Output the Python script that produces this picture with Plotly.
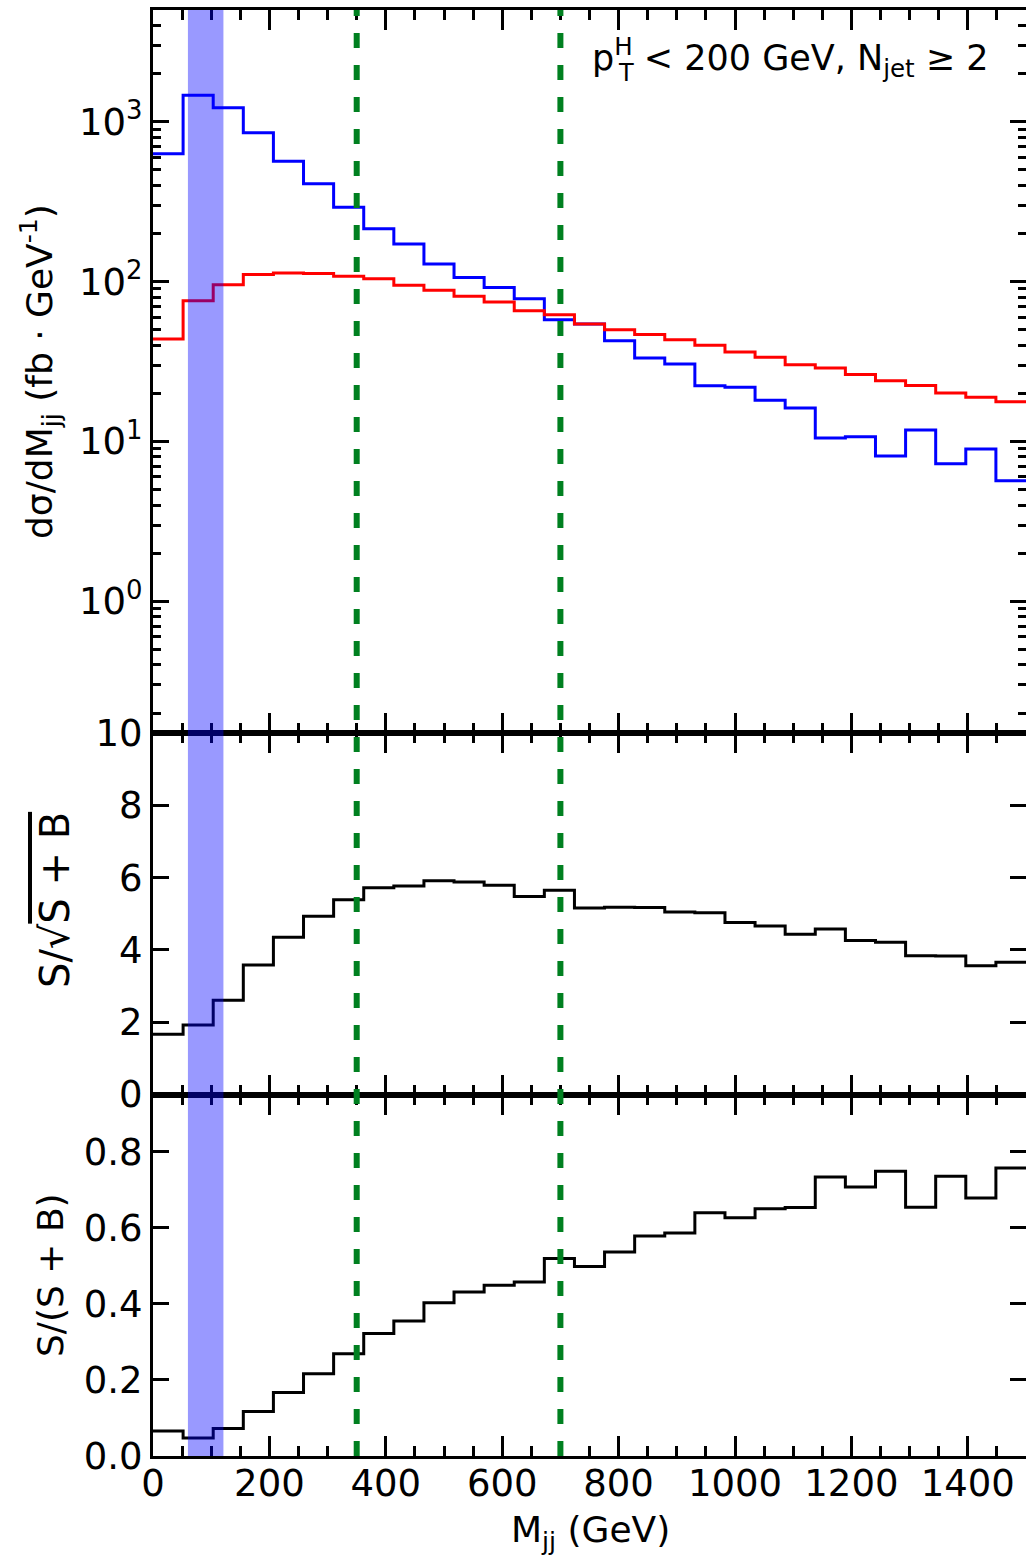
import numpy as np
import plotly.graph_objects as go
from plotly.subplots import make_subplots

# ---- data (29 uniform bins on 0..1500 GeV) ----
bin_edges = np.linspace(0, 1500, 30)

sig_blue = [631, 1462, 1224, 853, 566, 409, 292, 214, 172, 129, 106, 92, 78, 57.8,
            54.3, 42.7, 33.3, 30.5, 22.3, 21.8, 18.1, 16.2, 10.5, 10.7, 8.1, 11.8,
            7.25, 8.96, 5.67]
bkg_red = [43.8, 76, 95.7, 110.6, 113.3, 112.2, 107.9, 104, 94.9, 88.3, 81, 74.6,
           65.8, 62.1, 54.3, 50, 46.6, 43.3, 39.9, 36.3, 33.6, 30.2, 28.8, 26.2,
           24, 22.4, 20.1, 18.9, 17.7]
signif = [1.67, 1.92, 2.61, 3.58, 4.35, 4.93, 5.39, 5.72, 5.77, 5.91, 5.88, 5.79,
          5.48, 5.65, 5.16, 5.18, 5.17, 5.05, 5.03, 4.76, 4.66, 4.43, 4.58, 4.26,
          4.21, 3.84, 3.83, 3.56, 3.66]
purity = [0.066, 0.047, 0.072, 0.117, 0.167, 0.216, 0.269, 0.322, 0.355, 0.403,
          0.431, 0.449, 0.457, 0.519, 0.498, 0.536, 0.578, 0.586, 0.639, 0.626,
          0.650, 0.653, 0.733, 0.707, 0.748, 0.654, 0.735, 0.678, 0.757]

band_range = [60, 121]
cut_lines = [350, 700]

W, H = 1026, 1556
ML, MR, MT, MB = 153, 0, 10, 100
PW = W - ML - MR
PH = H - MT - MB


def px2paper_x(px):
    return (px - ML) / PW


def py2paper_y(py):
    return (H - MB - py) / PH


def step_xy(vals):
    return list(bin_edges), list(vals) + [vals[-1]]


fig = make_subplots(rows=3, cols=1, shared_xaxes=True, vertical_spacing=0,
                    row_heights=[0.5, 0.25, 0.25])

x, y = step_xy(sig_blue)
fig.add_trace(go.Scatter(x=x, y=y, mode="lines", line=dict(color="#0000ff", width=3, shape="hv")), row=1, col=1)
x, y = step_xy(bkg_red)
fig.add_trace(go.Scatter(x=x, y=y, mode="lines", line=dict(color="#ff0000", width=3, shape="hv")), row=1, col=1)
x, y = step_xy(signif)
fig.add_trace(go.Scatter(x=x, y=y, mode="lines", line=dict(color="black", width=3, shape="hv")), row=2, col=1)
x, y = step_xy(purity)
fig.add_trace(go.Scatter(x=x, y=y, mode="lines", line=dict(color="black", width=3, shape="hv")), row=3, col=1)

FONT = "DejaVu Sans"
tickfont = dict(family=FONT, size=37, color="black")

axis_common = dict(showline=True, linecolor="black", linewidth=3, mirror="ticks",
                   ticks="inside", tickcolor="black", tickwidth=2.5, showgrid=False,
                   zeroline=False, tickfont=tickfont, automargin=False)

for i in (1, 2, 3):
    fig.update_xaxes(range=[0, 1500], tick0=0, dtick=200, ticklen=20,
                     minor=dict(dtick=50, tick0=0, ticklen=10, tickwidth=2.5,
                                ticks="inside", tickcolor="black", showgrid=False),
                     row=i, col=1, **axis_common)
fig.update_xaxes(showticklabels=False, row=1, col=1)
fig.update_xaxes(showticklabels=False, row=2, col=1)
fig.update_xaxes(ticklabelstandoff=-7, row=3, col=1)

minor_log = [k * 10.0 ** d for d in range(-1, 4) for k in range(2, 10)]
fig.update_yaxes(type="log", range=[np.log10(0.15), np.log10(5000)],
                 tickmode="array", tickvals=[1, 10, 100, 1000],
                 ticktext=["10<sup>0</sup>", "10<sup>1</sup>", "10<sup>2</sup>", "10<sup>3</sup>"],
                 ticklen=16,
                 minor=dict(tickmode="array", tickvals=minor_log, ticklen=8, tickwidth=2.5,
                            ticks="inside", tickcolor="black", showgrid=False),
                 row=1, col=1, **axis_common)
fig.update_yaxes(range=[0, 10], tickmode="array", tickvals=[0, 2, 4, 6, 8, 10],
                 ticklen=16, row=2, col=1, **axis_common)
fig.update_yaxes(range=[0, 0.95], tickmode="array", tickvals=[0, 0.2, 0.4, 0.6, 0.8],
                 ticktext=["0.0", "0.2", "0.4", "0.6", "0.8"],
                 ticklen=16, row=3, col=1, **axis_common)

shapes = []
shapes.append(dict(type="rect", xref="x", yref="paper", x0=band_range[0], x1=band_range[1],
                   y0=0, y1=1, fillcolor="rgba(0,0,255,0.4)", line=dict(width=0), layer="above"))
for xc in cut_lines:
    shapes.append(dict(type="line", xref="x", yref="paper", x0=xc, x1=xc, y0=0, y1=1,
                       line=dict(color="#008020", width=6, dash="15px,17px"), layer="above"))

annotations = [
    dict(text="p<sup>H</sup>\u00a0< 200 GeV, N<sub>jet</sub> ≥ 2", xref="paper", yref="paper",
         x=px2paper_x(590), y=py2paper_y(58), xanchor="left", yanchor="middle",
         showarrow=False, font=dict(family=FONT, size=35, color="black")),
    dict(text="T", xref="paper", yref="paper",
         x=px2paper_x(626), y=py2paper_y(73), xanchor="center", yanchor="middle",
         showarrow=False, font=dict(family=FONT, size=24, color="black")),
    dict(text="dσ/dM<sub>jj</sub> (fb · GeV<sup>-1</sup>)", xref="paper", yref="paper",
         x=px2paper_x(40), y=py2paper_y(372), xanchor="center", yanchor="middle",
         textangle=-90, showarrow=False, font=dict(family=FONT, size=36, color="black")),
    dict(text="S/√<span style=\"text-decoration:overline\">S + B</span>", xref="paper", yref="paper",
         x=px2paper_x(55), y=py2paper_y(900), xanchor="center", yanchor="middle",
         textangle=-90, showarrow=False, font=dict(family=FONT, size=40, color="black")),
    dict(text="S/(S + B)", xref="paper", yref="paper",
         x=px2paper_x(50), y=py2paper_y(1275), xanchor="center", yanchor="middle",
         textangle=-90, showarrow=False, font=dict(family=FONT, size=36, color="black")),
    dict(text="M<sub>jj</sub> (GeV)", xref="paper", yref="paper",
         x=px2paper_x(590), y=py2paper_y(1532), xanchor="center", yanchor="middle",
         showarrow=False, font=dict(family=FONT, size=36, color="black")),
]

fig.update_layout(width=W, height=H, margin=dict(l=ML, r=MR, t=MT, b=MB),
                  plot_bgcolor="white", paper_bgcolor="white", showlegend=False,
                  font=dict(family=FONT, size=36, color="black"),
                  shapes=shapes, annotations=annotations)

fig.write_html("out.html", config={"displayModeBar": False},
               post_script="document.body.style.margin='0px';"
                           "document.body.style.padding='0px';"
                           "document.body.style.overflow='hidden';")
